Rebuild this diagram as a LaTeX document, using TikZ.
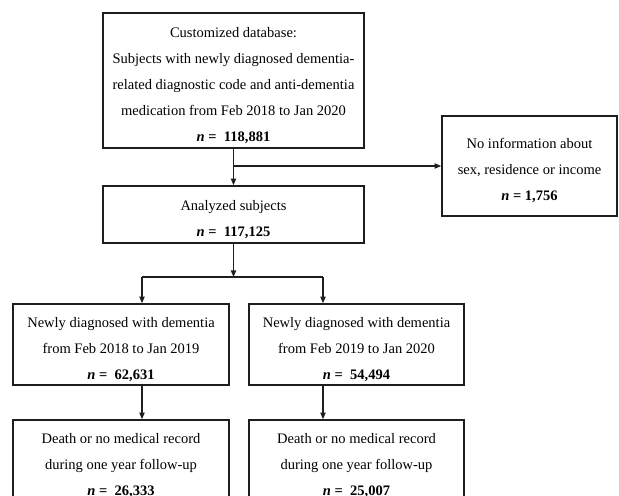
\documentclass[tikz,border=0pt]{standalone}
\usepackage{fontspec}
\setmainfont{Liberation Serif}
\usepackage{xcolor}
\usepackage{tikz}
\usetikzlibrary{calc,arrows.meta,positioning}
\definecolor{boxline}{RGB}{30,30,30}
\newcommand{\topgap}{\rule{0pt}{13.7pt}}

\begin{document}
\begin{tikzpicture}[x=0.689pt, y=-0.689pt,
    box/.style={draw=boxline, line width=1.1pt, rectangle, align=center, inner sep=0pt,
        font=\fontsize{10}{17.9}\selectfont},
    arr/.style={boxline, line width=0.8pt, -{Triangle[length=4.5pt,width=3.6pt]}},
    link/.style={boxline, line width=0.8pt}]
\useasboundingbox (0,0) rectangle (619,496);
\clip (0,0) rectangle (619,496);

\node[box, minimum width=179.8pt, minimum height=93.0pt] (db) at (233.5,80.5)
    {\topgap Customized database:\\ Subjects with newly diagnosed dementia-\\
     related diagnostic code and anti-dementia\\ medication from Feb 2018 to Jan 2020\\
     \textbf{\textit{n} =\ \ 118,881}};
\node[box, minimum width=120.6pt, minimum height=68.9pt] (excl) at (529.5,166)
    {\topgap No information about\\ sex, residence or income\\ \textbf{\textit{n} = 1,756}};
\node[box, minimum width=179.8pt, minimum height=39.3pt] (anal) at (233.5,214.5)
    {\topgap Analyzed subjects\\ \textbf{\textit{n} =\ \ 117,125}};

\node[box, minimum width=148.8pt, minimum height=55.8pt] (grpA) at (121,344.5)
    {\topgap Newly diagnosed with dementia\\ from Feb 2018 to Jan 2019\\ \textbf{\textit{n} =\ \ 62,631}};
\node[box, minimum width=148.1pt, minimum height=55.8pt] (grpB) at (356.5,344.5)
    {\topgap Newly diagnosed with dementia\\ from Feb 2019 to Jan 2020\\ \textbf{\textit{n} =\ \ 54,494}};

\node[box, minimum width=148.8pt, minimum height=55.8pt] (lossA) at (121,460.5)
    {\topgap Death or no medical record\\ during one year follow-up\\ \textbf{\textit{n} =\ \ 26,333}};
\node[box, minimum width=148.1pt, minimum height=55.8pt] (lossB) at (356.5,460.5)
    {\topgap Death or no medical record\\ during one year follow-up\\ \textbf{\textit{n} =\ \ 25,007}};

% split points
\coordinate (jn) at (233.5,277);
\coordinate (aL) at (142,277);
\coordinate (aR) at (323,277);

\draw[arr] (db.south) -- (anal.north);
\draw[arr] (db.south |- excl.west) -- (excl.west);
\draw[arr] (anal.south) -- (jn);
\draw[link] (aL) -- (aR);
\draw[arr] (aL) -- (aL |- grpA.north);
\draw[arr] (aR) -- (aR |- grpB.north);
\draw[arr] (aL |- grpA.south) -- (aL |- lossA.north);
\draw[arr] (aR |- grpB.south) -- (aR |- lossB.north);
\end{tikzpicture}
\end{document}
